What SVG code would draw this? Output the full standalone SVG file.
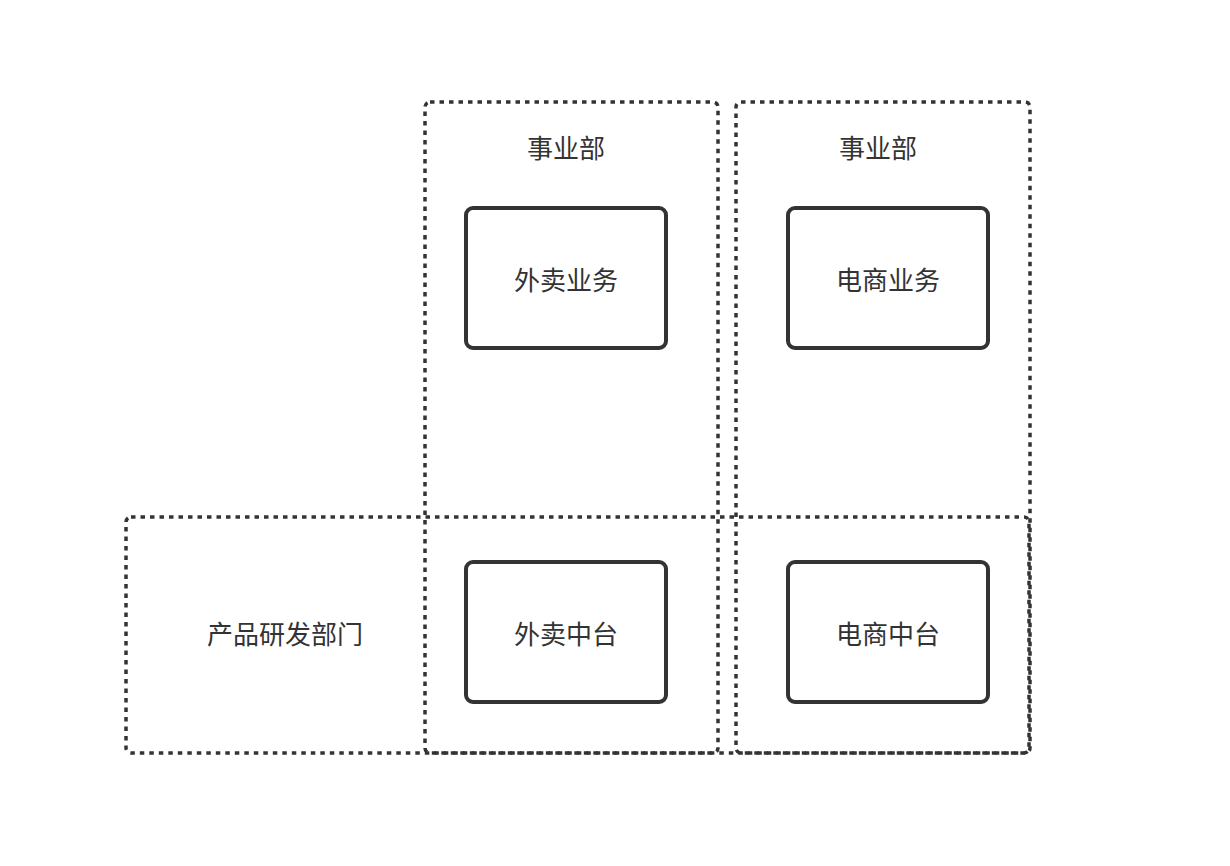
<svg xmlns="http://www.w3.org/2000/svg" width="1230" height="866" viewBox="0 0 1230 866">
<style>
.grp{fill:none;stroke:#333;stroke-width:3.5;stroke-dasharray:4.5 5;}
.node{fill:#fff;stroke:#333;stroke-width:4;}
text{font-family:"Noto Sans CJK SC","Noto Sans",sans-serif;font-size:26px;fill:#333;text-anchor:middle;dominant-baseline:central;}
</style>
<rect width="1230" height="866" fill="#fff"/>
<g id="groups">
<g id="dept-waimai"><rect class="grp" x="425" y="102" width="293" height="651" rx="5"/><text x="566" y="146">事业部</text></g>
<g id="dept-dianshang"><rect class="grp" x="736" y="102" width="294" height="651" rx="5"/><text x="878" y="146">事业部</text></g>
<g id="dept-rd"><rect class="grp" x="126" y="517" width="903" height="236" rx="5"/><text x="285" y="632">产品研发部门</text></g>
</g>
<g id="n-waimai-biz"><rect class="node" x="466" y="208" width="200" height="140" rx="7"/><text x="566" y="278">外卖业务</text></g>
<g id="n-ds-biz"><rect class="node" x="788" y="208" width="200" height="140" rx="7"/><text x="888" y="278">电商业务</text></g>
<g id="n-waimai-mid"><rect class="node" x="466" y="562" width="200" height="140" rx="7"/><text x="566" y="632">外卖中台</text></g>
<g id="n-ds-mid"><rect class="node" x="788" y="562" width="200" height="140" rx="7"/><text x="888" y="632">电商中台</text></g>
<g id="connectors"></g>
</svg>
